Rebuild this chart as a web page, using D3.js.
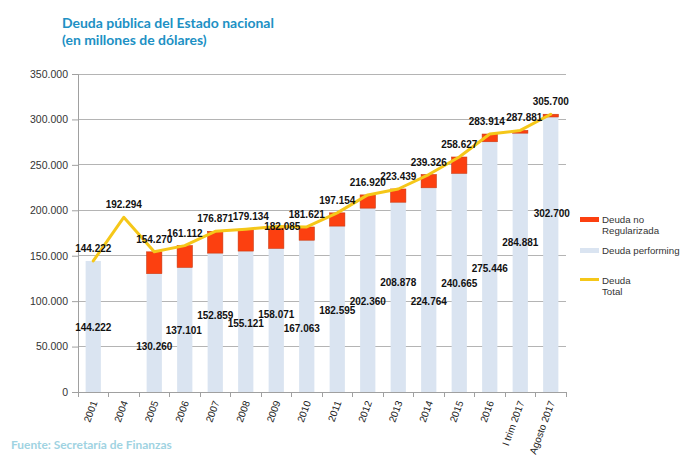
<!DOCTYPE html>
<html><head><meta charset="utf-8">
<script src="https://cdn.jsdelivr.net/npm/d3@7"></script>
<style>body{margin:0;background:#fff}svg{display:block}</style>
</head><body>
<svg id="chart" width="690" height="468"></svg>
<script>
// ---- data ----
const categories = ["2001","2004","2005","2006","2007","2008","2009","2010","2011","2012","2013","2014","2015","2016","I trim 2017","Agosto 2017"];
const performing = [144222,null,130260,137101,152859,155121,158071,167063,182595,202360,208878,224764,240665,275446,284881,302700];
const noRegularizada = [null,null,24010,24011,24012,24013,24014,14558,14559,14560,14561,14562,17962,8468,3000,3000];
const total = [144222,192294,154270,161112,176871,179134,182085,181621,197154,216920,223439,239326,258627,283914,287881,305700];
const yTicks = [0,50000,100000,150000,200000,250000,300000,350000];
// label placement (value units) for the performing labels, as in the original
const performingLabelAt = [71000,null,50000,67500,84000,75600,85500,70000,90000,100000,120700,100000,119000,136000,164700,196000];
const performingLabelNudge = [0,0,0,-1,0,0,0,-5,0,0,0,0,0,0,0,1];
const totalLabelNudgeX = [0,0,0,0,0,5,6,0,0,0,0,0,0,-3,4,0];
const totalLabelNudgeY = [-12.5,-12.5,-12.5,-12.5,-12.5,-12.5,0,-12.5,-12.5,-12.5,-12.5,-12.5,-12.5,-12.5,-12.5,-12.5];

(function () {
const svg = d3.select("#chart");
const pL = 78, pR = 566, pT = 74, pB = 392;
const x = d3.scaleBand().domain(categories).range([pL, pR]).padding(0);
const y = d3.scaleLinear().domain([0, 350000]).range([pB, pT]);
const loc = d3.formatLocale({decimal: ",", thousands: ".", grouping: [3], currency: ["$", ""]});
const fmt = loc.format(",.0f");
const cx = c => x(c) + x.bandwidth() / 2;
const barW = x.bandwidth() * 0.5;

const axisFont = "'Liberation Sans', Arial, sans-serif";

// gridlines
svg.append("g").selectAll("line").data(yTicks.filter(d => d > 0)).join("line")
  .attr("x1", pL).attr("x2", pR).attr("y1", d => y(d)).attr("y2", d => y(d))
  .attr("stroke", "#b4b4b4").attr("stroke-width", 1).attr("shape-rendering", "crispEdges");

// y axis
const yAxis = svg.append("g").attr("transform", `translate(${pL},0)`)
  .call(d3.axisLeft(y).tickValues(yTicks).tickFormat(fmt).tickSize(6).tickPadding(4));
yAxis.select(".domain").attr("stroke", "#a0a0a0");
yAxis.selectAll(".tick line").attr("stroke", "#a0a0a0");
yAxis.selectAll("text").attr("font-family", axisFont).attr("font-size", "10.5px").attr("fill", "#333");

// bars: performing
const rows = categories.map((c, i) => ({c, i, p: performing[i], n: noRegularizada[i], t: total[i]}));
svg.append("g").selectAll("rect").data(rows.filter(d => d.p != null)).join("rect")
  .attr("x", d => cx(d.c) - barW / 2).attr("width", barW)
  .attr("y", d => y(d.p)).attr("height", d => y(0) - y(d.p))
  .attr("fill", "#dae4f1");
// bars: no regularizada (stacked)
svg.append("g").selectAll("rect").data(rows.filter(d => d.n != null)).join("rect")
  .attr("x", d => cx(d.c) - barW / 2).attr("width", barW)
  .attr("y", d => y(d.p + d.n)).attr("height", d => y(d.p) - y(d.p + d.n))
  .attr("fill", "#fc4010").attr("stroke", "#c9380f").attr("stroke-width", 0.6);

// x axis
const xAxisG = svg.append("g").attr("transform", `translate(0,${pB})`);
xAxisG.append("line").attr("x1", pL).attr("x2", pR).attr("y1", 0).attr("y2", 0)
  .attr("stroke", "#a0a0a0").attr("shape-rendering", "crispEdges");
const bounds = categories.map(c => x(c)).concat([pR]);
xAxisG.selectAll("line.tk").data(bounds).join("line").attr("class", "tk")
  .attr("x1", d => d).attr("x2", d => d).attr("y1", 0).attr("y2", 5)
  .attr("stroke", "#a0a0a0").attr("shape-rendering", "crispEdges");
svg.append("g").selectAll("text").data(categories).join("text")
  .attr("transform", d => `translate(${cx(d) + 1},${pB + 9}) rotate(-70)`)
  .attr("text-anchor", "end").attr("dy", "0.35em")
  .attr("font-family", axisFont).attr("font-size", "10px").attr("fill", "#222")
  .text(d => d);

// total line
const line = d3.line().x(d => cx(d.c)).y(d => y(d.t));
svg.append("path").datum(rows).attr("d", line)
  .attr("fill", "none").attr("stroke", "#f5c719").attr("stroke-width", 3)
  .attr("stroke-linejoin", "round").attr("stroke-linecap", "round");

// labels
const lblFont = "'Liberation Sans', Arial, sans-serif";
svg.append("g").selectAll("text").data(rows.filter(d => d.p != null)).join("text")
  .attr("x", d => cx(d.c) + performingLabelNudge[d.i])
  .attr("y", d => y(performingLabelAt[d.i])).attr("dy", "0.35em")
  .attr("text-anchor", "middle").attr("font-family", lblFont).attr("font-weight", "bold")
  .attr("font-size", "10px").attr("fill", "#111").text(d => fmt(d.p));
svg.append("g").selectAll("text").data(rows).join("text")
  .attr("x", d => cx(d.c) + totalLabelNudgeX[d.i])
  .attr("y", d => y(d.t) + totalLabelNudgeY[d.i]).attr("dy", "0.35em")
  .attr("text-anchor", "middle").attr("font-family", lblFont).attr("font-weight", "bold")
  .attr("font-size", "10px").attr("fill", "#111").text(d => fmt(d.t));

// legend
const lg = svg.append("g");
const legFont = "'Liberation Sans', Arial, sans-serif";
lg.append("rect").attr("x", 580).attr("y", 217).attr("width", 19).attr("height", 5).attr("fill", "#fc4010");
lg.append("rect").attr("x", 580).attr("y", 248).attr("width", 19).attr("height", 5).attr("fill", "#dae4f1");
lg.append("line").attr("x1", 580).attr("x2", 599).attr("y1", 279.5).attr("y2", 279.5).attr("stroke", "#f5c719").attr("stroke-width", 3);
const legTexts = [["Deuda no", 223], ["Regularizada", 233.5], ["Deuda performing", 253.5], ["Deuda", 283.5], ["Total", 294.5]];
lg.selectAll("text").data(legTexts).join("text")
  .attr("x", 602).attr("y", d => d[1]).attr("font-family", legFont).attr("font-size", "9.7px")
  .attr("fill", "#333").text(d => d[0]);

// title
function fitWidth(sel, w) {
  const node = sel.node();
  const fs = parseFloat(sel.attr("font-size"));
  const len = node.getComputedTextLength();
  if (len > 0) sel.attr("font-size", (fs * w / len).toFixed(2) + "px");
}
const t1 = svg.append("text").attr("x", 62).attr("y", 27.5).attr("font-family", "Lato, 'Open Sans', sans-serif")
  .attr("font-weight", "bold").attr("font-size", "14px").attr("fill", "#2090c4").text("Deuda pública del Estado nacional");
fitWidth(t1, 212);
svg.append("text").attr("x", 62).attr("y", 44.5).attr("font-family", "Lato, 'Open Sans', sans-serif")
  .attr("font-weight", "bold").attr("font-size", t1.attr("font-size")).attr("fill", "#2090c4").text("(en millones de dólares)");

const src = svg.append("text").attr("x", 11).attr("y", 449).attr("font-family", "Lato, 'Open Sans', sans-serif")
  .attr("font-weight", "bold").attr("font-size", "10px").attr("fill", "#9fd3e2").text("Fuente: Secretaría de Finanzas");
fitWidth(src, 161);
})();
</script>
</body></html>
